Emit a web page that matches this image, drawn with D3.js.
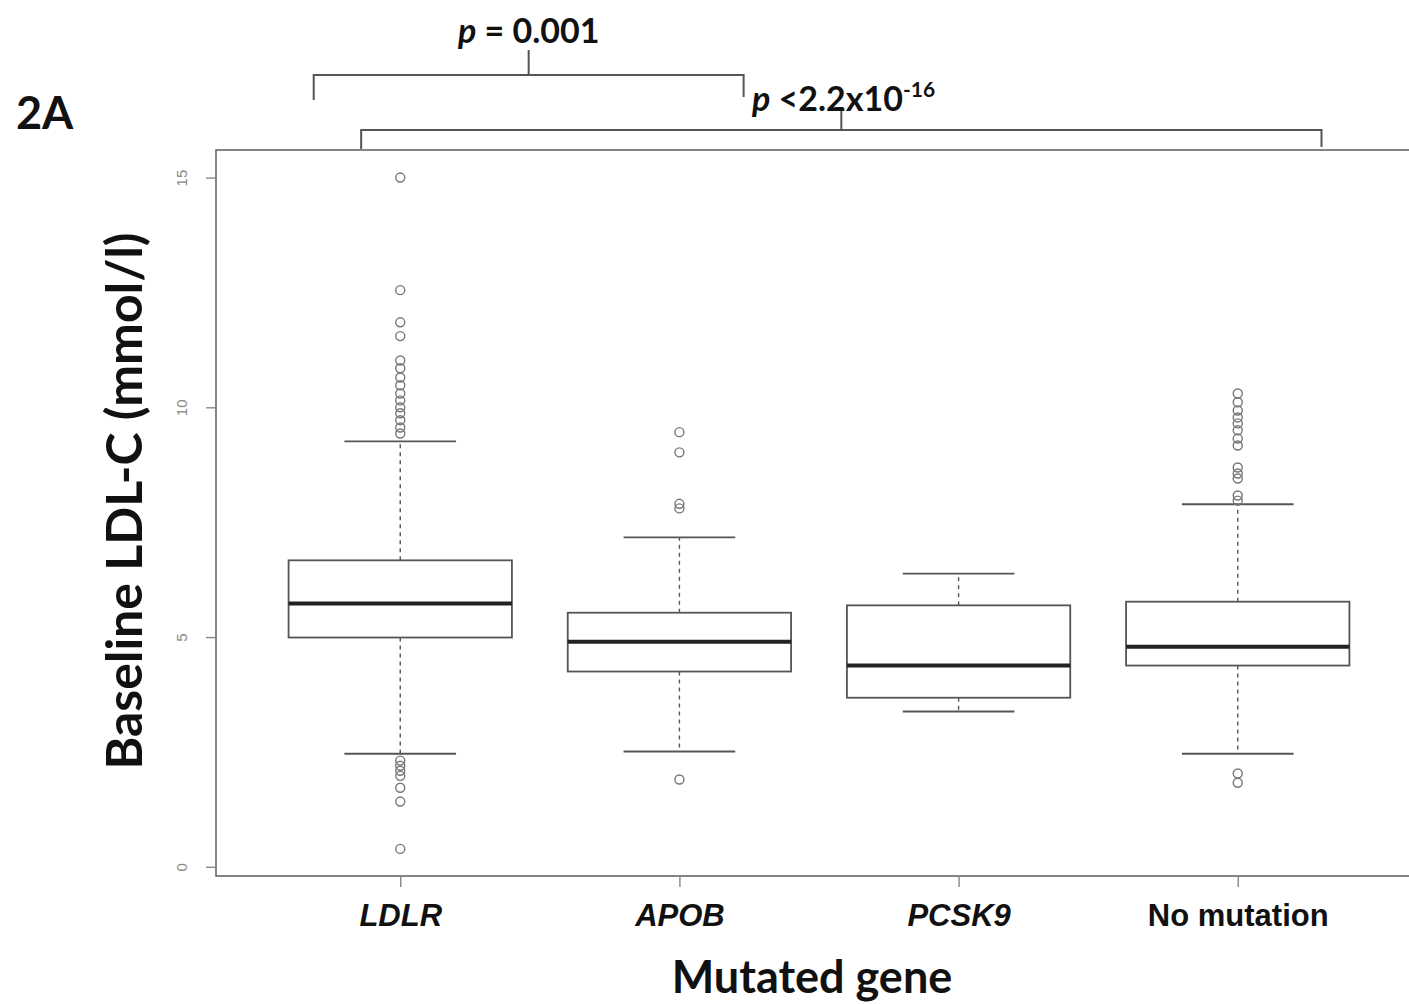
<!DOCTYPE html>
<html>
<head>
<meta charset="utf-8">
<script src="https://cdn.jsdelivr.net/npm/d3@7"></script>
<style>
  body { margin: 0; background: #fff; }
  svg { display: block; font-family: Lato, "Open Sans", sans-serif; }
</style>
</head>
<body>
<div id="chart"></div>
<script>
// box stats per gene (mmol/l)
const genes = ['LDLR', 'APOB', 'PCSK9', 'No mutation'];
const italicLabel = [true, true, true, false];
const whiskerLow = [2.46, 2.51, 3.38, 2.46];
const q1 = [4.99, 4.25, 3.68, 4.38];
const median = [5.73, 4.9, 4.38, 4.79];
const q3 = [6.67, 5.53, 5.69, 5.77];
const whiskerHigh = [9.26, 7.17, 6.38, 7.89];
const outliers = [
  [15.0, 12.55, 11.85, 11.55, 11.02, 10.85, 10.65, 10.48, 10.3, 10.15, 10.0, 9.87, 9.72, 9.56, 9.43,
    2.31, 2.2, 2.09, 1.98, 1.72, 1.42, 0.39],
  [9.46, 9.02, 7.9, 7.8, 1.9],
  [],
  [10.3, 10.11, 9.93, 9.78, 9.65, 9.5, 9.32, 9.17, 8.69, 8.56, 8.45, 8.08, 7.97, 2.03, 1.83],
];
const yTicks = [0, 5, 10, 15];

// comparison brackets, in box-index units (1 = first box)
const brackets = [
  { from: 0.69, to: 2.23, mid: 1.46 },
  { from: 0.86, to: 4.30, mid: 2.58 },
];

const W = 1409, H = 1004;
const svg = d3.select('#chart').append('svg')
  .attr('width', W).attr('height', H);

const plot = { left: 216, right: 1422, top: 150, bottom: 876 };

// R style: xlim 0.5..n+0.5 stretched by 4%
const x = d3.scaleLinear().domain([0.34, 4.66]).range([plot.left, plot.right]);
const y = d3.scaleLinear().domain([-0.2, 15.6]).range([plot.bottom, plot.top]);
const boxW = x(1.8) - x(1);
const capW = boxW / 2;

const lineCol = '#555';

// frame
svg.append('rect')
  .attr('x', plot.left).attr('y', plot.top)
  .attr('width', plot.right - plot.left).attr('height', plot.bottom - plot.top)
  .attr('fill', 'none').attr('stroke', '#666').attr('stroke-width', 1.6);

// y axis
const yAxis = svg.append('g')
  .attr('transform', `translate(${plot.left - 1},0)`)
  .call(d3.axisLeft(y).tickValues(yTicks).tickSize(9).tickFormat(d3.format('d')))
  .call((g) => g.select('.domain').remove());
yAxis.selectAll('line').attr('stroke', '#888').attr('stroke-width', 1.4);
yAxis.selectAll('text')
  .attr('fill', '#888').attr('font-size', 15)
  .attr('font-family', 'Liberation Sans, Arial, sans-serif')
  .attr('transform', 'rotate(-90)')
  .attr('x', 0).attr('y', -33).attr('dy', '0.35em').attr('text-anchor', 'middle');

// x axis
const xAxis = svg.append('g')
  .attr('transform', `translate(0,${plot.bottom})`)
  .call(d3.axisBottom(x).tickValues([1, 2, 3, 4]).tickSize(11).tickPadding(14)
    .tickFormat((d) => genes[d - 1]))
  .call((g) => g.select('.domain').remove());
xAxis.selectAll('line').attr('stroke', '#888').attr('stroke-width', 1.4);
xAxis.selectAll('text')
  .attr('fill', '#111').attr('font-size', 31).attr('font-weight', 'bold')
  .attr('font-style', (d) => (italicLabel[d - 1] ? 'italic' : 'normal'))
  .attr('dy', '0.8em');

// axis titles
svg.append('text')
  .attr('x', 812).attr('y', 993)
  .attr('text-anchor', 'middle').attr('font-size', 45).attr('font-weight', 'bold').attr('fill', '#111')
  .text('Mutated gene');

svg.append('text')
  .attr('transform', `translate(142,501) rotate(-90)`)
  .attr('text-anchor', 'middle').attr('font-size', 50).attr('font-weight', 'bold').attr('fill', '#111')
  .text('Baseline LDL-C (mmol/l)');

svg.append('text')
  .attr('x', 16).attr('y', 129)
  .attr('font-size', 45).attr('font-weight', 'bold').attr('fill', '#111')
  .text('2A');

// boxes
const boxes = svg.append('g');
genes.forEach((g, i) => {
  const cx = x(i + 1);
  const grp = boxes.append('g');
  // whiskers, dashed
  [[q3[i], whiskerHigh[i]], [q1[i], whiskerLow[i]]].forEach(([a, b]) => {
    grp.append('line')
      .attr('x1', cx).attr('x2', cx).attr('y1', y(a)).attr('y2', y(b))
      .attr('stroke', lineCol).attr('stroke-width', 1.4).attr('stroke-dasharray', '4,4');
    grp.append('line')
      .attr('x1', cx - capW / 2).attr('x2', cx + capW / 2).attr('y1', y(b)).attr('y2', y(b))
      .attr('stroke', lineCol).attr('stroke-width', 1.8);
  });
  grp.append('rect')
    .attr('x', cx - boxW / 2).attr('width', boxW)
    .attr('y', y(q3[i])).attr('height', y(q1[i]) - y(q3[i]))
    .attr('fill', '#fff').attr('stroke', lineCol).attr('stroke-width', 1.8);
  grp.append('line')
    .attr('x1', cx - boxW / 2).attr('x2', cx + boxW / 2)
    .attr('y1', y(median[i])).attr('y2', y(median[i]))
    .attr('stroke', '#222').attr('stroke-width', 4);
  grp.selectAll('circle').data(outliers[i]).enter().append('circle')
    .attr('cx', cx).attr('cy', (d) => y(d)).attr('r', 4.5)
    .attr('fill', 'none').attr('stroke', '#777').attr('stroke-width', 1.4);
});

// brackets
const br = svg.append('g').attr('stroke', '#555').attr('stroke-width', 2).attr('fill', 'none');
const b1 = brackets[0], b2 = brackets[1];
br.append('path').attr('d',
  `M${x(b1.from)},100 V75 H${x(b1.to)} V97 M${x(b1.mid)},75 V50`);
br.append('path').attr('d',
  `M${x(b2.from)},149 V130 H${x(b2.to)} V147 M${x(b2.mid)},130 V110`);

const t1 = svg.append('text')
  .attr('x', x(b1.mid)).attr('y', 43).attr('text-anchor', 'middle')
  .attr('font-size', 34).attr('font-weight', 'bold').attr('fill', '#111');
t1.append('tspan').attr('font-style', 'italic').text('p');
t1.append('tspan').text(' = 0.001');

const t2 = svg.append('text')
  .attr('x', 752).attr('y', 111)
  .attr('font-size', 34).attr('font-weight', 'bold').attr('fill', '#111');
t2.append('tspan').attr('font-style', 'italic').text('p');
t2.append('tspan').text(' <2.2x10');
t2.append('tspan').attr('font-size', 21).attr('dy', -14).text('-16');
</script>
</body>
</html>
